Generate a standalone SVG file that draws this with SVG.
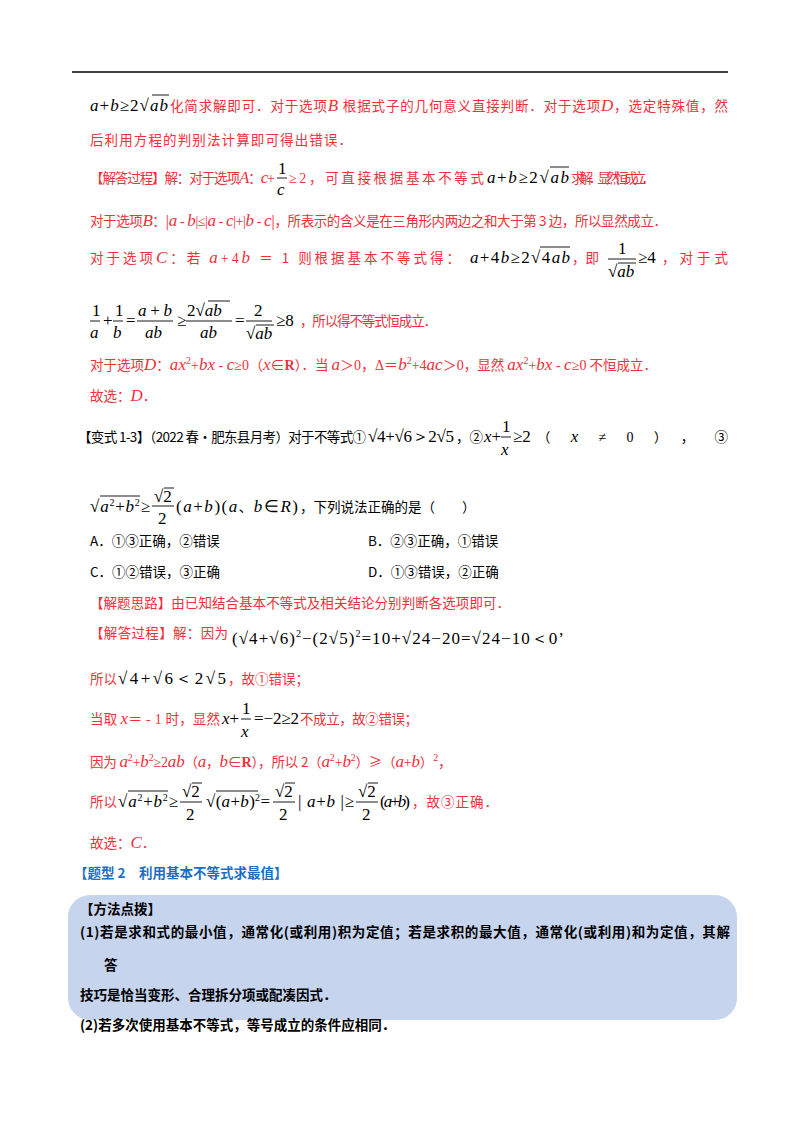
<svg xmlns="http://www.w3.org/2000/svg" width="800" height="1132" viewBox="0 0 800 1132">
<style>
text{font-family:"Liberation Serif","Noto Sans CJK SC",serif;font-size:14px;fill:#000}
.r{fill:#f0303a}
.c{font-family:"Noto Sans CJK SC","Liberation Sans",sans-serif;font-size:13.5px}
.m{font-family:"Liberation Serif",serif;font-style:italic;font-size:17px}
.n{font-family:"Liberation Serif",serif;font-size:17px}
.b{font-weight:bold}
.s{font-size:10px}
line.o{stroke:#000;stroke-width:0.9}
line.f{stroke:#000;stroke-width:0.9}
</style>
<rect width="800" height="1132" fill="#fff"/>
<line x1="72" y1="72" x2="728" y2="72" stroke="#000" stroke-width="1.5"/>

<g id="p1">
<text x="90" y="111" textLength="78" lengthAdjust="spacing"><tspan class="m">a</tspan><tspan class="n">+</tspan><tspan class="m">b</tspan><tspan class="n">≥2√</tspan><tspan class="m">ab</tspan></text>
<line class="o" x1="152" y1="95" x2="169" y2="95"/>
<text x="170" y="111" class="r" textLength="558" lengthAdjust="spacing"><tspan class="c">化简求解即可．对于选项</tspan><tspan class="m">B</tspan><tspan class="c"> 根据式子的几何意义直接判断．对于选项</tspan><tspan class="m">D</tspan><tspan class="c">，选定特殊值，然</tspan></text>
<text x="90" y="145" class="c r" textLength="262" lengthAdjust="spacing">后利用方程的判别法计算即可得出错误．</text>

<text x="90" y="183" class="r" textLength="185" lengthAdjust="spacing"><tspan class="c">【解答过程】解：对于选项</tspan><tspan class="m">A</tspan><tspan class="c">：</tspan><tspan class="m">c</tspan><tspan>+</tspan></text>
<text x="278" y="174" class="n">1</text><line class="f" x1="277" y1="178" x2="287" y2="178"/><text x="277" y="195" class="m">c</text>
<text x="289" y="183" class="r" textLength="195" lengthAdjust="spacing"><tspan>≥2</tspan><tspan class="c">，可直接根据基本不等式</tspan></text>
<text x="487" y="183" textLength="82" lengthAdjust="spacing"><tspan class="m">a</tspan><tspan class="n">+</tspan><tspan class="m">b</tspan><tspan class="n">≥2√</tspan><tspan class="m">ab</tspan></text>
<line class="o" x1="550" y1="167" x2="569" y2="167"/>
<text x="571" y="183" class="c r" textLength="84" lengthAdjust="spacing">求解．显然恒成立．</text>

<text x="90" y="226" class="r" textLength="577" lengthAdjust="spacing"><tspan class="c">对于选项</tspan><tspan class="m">B</tspan><tspan class="c">：|</tspan><tspan class="m">a</tspan><tspan> - </tspan><tspan class="m">b</tspan><tspan>|≤|</tspan><tspan class="m">a</tspan><tspan> - </tspan><tspan class="m">c</tspan><tspan>|+|</tspan><tspan class="m">b</tspan><tspan> - </tspan><tspan class="m">c</tspan><tspan class="c">|，所表示的含义是在三角形内两边之和大于第 3 边，所以显然成立．</tspan></text>

<text x="90" y="263" class="r" textLength="370" lengthAdjust="spacing"><tspan class="c">对于选项</tspan><tspan class="m">C</tspan><tspan class="c">：若 </tspan><tspan class="m">a</tspan><tspan>+4</tspan><tspan class="m">b</tspan><tspan class="c"> ＝ 1 则根据基本不等式得：</tspan></text>
<text x="470" y="263" textLength="100" lengthAdjust="spacing"><tspan class="m">a</tspan><tspan class="n">+4</tspan><tspan class="m">b</tspan><tspan class="n">≥2√4</tspan><tspan class="m">ab</tspan></text>
<line class="o" x1="540" y1="247" x2="570" y2="247"/>
<text x="572" y="263" class="c r">，即</text>
<text x="618" y="254" class="n">1</text><line class="f" x1="608" y1="259" x2="636" y2="259"/><text x="608" y="277"><tspan class="n">√</tspan><tspan class="m">ab</tspan></text>
<line class="o" x1="618" y1="263" x2="636" y2="263"/>
<text x="638" y="263" class="n">≥4</text>
<text x="662" y="263" class="c r" textLength="66" lengthAdjust="spacing">，对于式</text>

<text x="92" y="316" class="n">1</text><line class="f" x1="90" y1="321" x2="100" y2="321"/><text x="90" y="338" class="m">a</text>
<text x="103" y="326" class="n">+</text>
<text x="115" y="316" class="n">1</text><line class="f" x1="113" y1="321" x2="123" y2="321"/><text x="113" y="338" class="m">b</text>
<text x="126" y="326" class="n">=</text>
<text x="138" y="316" textLength="34" lengthAdjust="spacing"><tspan class="m">a</tspan><tspan class="n">+</tspan><tspan class="m">b</tspan></text><line class="f" x1="137" y1="321" x2="173" y2="321"/><text x="145" y="338" class="m">ab</text>
<text x="177" y="326" class="n">≥</text>
<text x="187" y="316"><tspan class="n">2√</tspan><tspan class="m">ab</tspan></text><line class="o" x1="208" y1="301" x2="230" y2="301"/><line class="f" x1="186" y1="321" x2="232" y2="321"/><text x="200" y="338" class="m">ab</text>
<text x="235" y="326" class="n">=</text>
<text x="254" y="316" class="n">2</text><line class="f" x1="246" y1="321" x2="272" y2="321"/><text x="246" y="339"><tspan class="n">√</tspan><tspan class="m">ab</tspan></text><line class="o" x1="256" y1="325" x2="274" y2="325"/>
<text x="276" y="326" class="n">≥8</text>
<text x="300" y="326" class="c r" textLength="137" lengthAdjust="spacing">，所以得不等式恒成立．</text>
<text x="90" y="370" class="r" textLength="567" lengthAdjust="spacing"><tspan class="c">对于选项</tspan><tspan class="m">D</tspan><tspan class="c">：</tspan><tspan class="m">ax</tspan><tspan class="s" dy="-6">2</tspan><tspan dy="6">+</tspan><tspan class="m">bx</tspan><tspan> - </tspan><tspan class="m">c</tspan><tspan>≥0（</tspan><tspan class="m">x</tspan><tspan>∈</tspan><tspan class="b">R</tspan><tspan class="c">）．当 </tspan><tspan class="m">a</tspan><tspan>＞0，Δ＝</tspan><tspan class="m">b</tspan><tspan class="s" dy="-6">2</tspan><tspan dy="6">+4</tspan><tspan class="m">ac</tspan><tspan>＞0</tspan><tspan class="c">，显然 </tspan><tspan class="m">ax</tspan><tspan class="s" dy="-6">2</tspan><tspan dy="6">+</tspan><tspan class="m">bx</tspan><tspan> - </tspan><tspan class="m">c</tspan><tspan>≥0</tspan><tspan class="c"> 不恒成立．</tspan></text>
<text x="90" y="401" class="r"><tspan class="c">故选：</tspan><tspan class="m">D</tspan><tspan>．</tspan></text>
</g>

<g id="p2">
<text x="78" y="442" class="c" textLength="288" lengthAdjust="spacing">【变式 1-3】（2022 春•肥东县月考）对于不等式①</text>
<text x="368" y="442" class="n" textLength="86" lengthAdjust="spacing">√4+√6＞2√5</text>
<text x="456" y="442" class="c">，②</text>
<text x="484" y="442"><tspan class="m">x</tspan><tspan class="n">+</tspan></text>
<text x="502" y="432" class="n">1</text><line class="f" x1="501" y1="437" x2="511" y2="437"/><text x="501" y="455" class="m">x</text>
<text x="513" y="442" class="n">≥2</text>
<text x="537" y="442" textLength="191" lengthAdjust="spacing"><tspan class="c">（</tspan><tspan class="m">x</tspan><tspan>≠0</tspan><tspan class="c">），③</tspan></text>

<text x="90" y="512" textLength="60" lengthAdjust="spacing"><tspan class="n">√</tspan><tspan class="m">a</tspan><tspan class="s" dy="-6">2</tspan><tspan class="n" dy="6">+</tspan><tspan class="m">b</tspan><tspan class="s" dy="-6">2</tspan><tspan class="n" dy="6">≥</tspan></text>
<line class="o" x1="100" y1="496" x2="140" y2="496"/>
<text x="154" y="502" class="n">√2</text><line class="o" x1="164" y1="488" x2="174" y2="488"/><line class="f" x1="152" y1="506" x2="174" y2="506"/><text x="158" y="524" class="n">2</text>
<text x="176" y="512" textLength="122" lengthAdjust="spacing"><tspan class="n">(</tspan><tspan class="m">a</tspan><tspan class="n">+</tspan><tspan class="m">b</tspan><tspan class="n">)(</tspan><tspan class="m">a</tspan><tspan class="c">、</tspan><tspan class="m">b</tspan><tspan class="n">∈</tspan><tspan class="m">R</tspan><tspan class="n">)</tspan></text>
<text x="300" y="512" class="c">，下列说法正确的是（　　）</text>
<text x="90" y="546" class="c">A．①③正确，②错误</text>
<text x="368" y="546" class="c">B．②③正确，①错误</text>
<text x="90" y="577" class="c">C．①②错误，③正确</text>
<text x="368" y="577" class="c">D．①③错误，②正确</text>
<text x="90" y="608" class="c r" textLength="420" lengthAdjust="spacing">【解题思路】由已知结合基本不等式及相关结论分别判断各选项即可．</text>
<text x="90" y="638" class="c r" textLength="138" lengthAdjust="spacing">【解答过程】解：因为</text>
<text x="232" y="644" class="n" textLength="332" lengthAdjust="spacing">(√4+√6)<tspan class="s" dy="-7">2</tspan><tspan dy="7">−(2√5)</tspan><tspan class="s" dy="-7">2</tspan><tspan dy="7">=10+√24−20=√24−10＜0’</tspan></text>
<text x="90" y="684" class="c r">所以</text>
<text x="118" y="684" class="n" textLength="108" lengthAdjust="spacing">√4+√6＜2√5</text>
<text x="228" y="684" class="c r">，故①错误；</text>

<text x="90" y="724" class="r" textLength="130" lengthAdjust="spacing"><tspan class="c">当取 </tspan><tspan class="m">x</tspan><tspan>＝ - 1 </tspan><tspan class="c">时，显然</tspan></text>
<text x="222" y="724"><tspan class="m">x</tspan><tspan class="n">+</tspan></text>
<text x="242" y="714" class="n">1</text><line class="f" x1="241" y1="719" x2="251" y2="719"/><text x="241" y="737" class="m">x</text>
<text x="254" y="724" class="n" textLength="45" lengthAdjust="spacing">=−2≥2</text>
<text x="300" y="724" class="c r" textLength="118" lengthAdjust="spacing">不成立，故②错误；</text>

<text x="90" y="767" class="r" textLength="362" lengthAdjust="spacing"><tspan class="c">因为 </tspan><tspan class="m">a</tspan><tspan class="s" dy="-6">2</tspan><tspan dy="6">+</tspan><tspan class="m">b</tspan><tspan class="s" dy="-6">2</tspan><tspan dy="6">≥2</tspan><tspan class="m">ab</tspan><tspan class="c">（</tspan><tspan class="m">a</tspan><tspan class="c">，</tspan><tspan class="m">b</tspan><tspan>∈</tspan><tspan class="b">R</tspan><tspan class="c">），所以 2（</tspan><tspan class="m">a</tspan><tspan class="s" dy="-6">2</tspan><tspan dy="6">+</tspan><tspan class="m">b</tspan><tspan class="s" dy="-6">2</tspan><tspan dy="6" class="c">）≥（</tspan><tspan class="m">a</tspan><tspan>+</tspan><tspan class="m">b</tspan><tspan class="c">）</tspan><tspan class="s" dy="-6">2</tspan><tspan dy="6">，</tspan></text>

<text x="90" y="807" class="c r">所以</text>
<text x="118" y="807" textLength="60" lengthAdjust="spacing"><tspan class="n">√</tspan><tspan class="m">a</tspan><tspan class="s" dy="-6">2</tspan><tspan class="n" dy="6">+</tspan><tspan class="m">b</tspan><tspan class="s" dy="-6">2</tspan><tspan class="n" dy="6">≥</tspan></text>
<line class="o" x1="128" y1="791" x2="168" y2="791"/>
<text x="182" y="797" class="n">√2</text><line class="o" x1="192" y1="783" x2="202" y2="783"/><line class="f" x1="180" y1="802" x2="202" y2="802"/><text x="186" y="820" class="n">2</text>
<text x="206" y="807" textLength="64" lengthAdjust="spacing"><tspan class="n">√(</tspan><tspan class="m">a</tspan><tspan class="n">+</tspan><tspan class="m">b</tspan><tspan class="n">)</tspan><tspan class="s" dy="-6">2</tspan><tspan class="n" dy="6">=</tspan></text>
<line class="o" x1="216" y1="791" x2="258" y2="791"/>
<text x="275" y="797" class="n">√2</text><line class="o" x1="285" y1="783" x2="295" y2="783"/><line class="f" x1="273" y1="802" x2="295" y2="802"/><text x="279" y="820" class="n">2</text>
<text x="298" y="807" textLength="56" lengthAdjust="spacing"><tspan class="n">| </tspan><tspan class="m">a</tspan><tspan class="n">+</tspan><tspan class="m">b</tspan><tspan class="n"> |≥</tspan></text>
<text x="358" y="797" class="n">√2</text><line class="o" x1="368" y1="783" x2="378" y2="783"/><line class="f" x1="356" y1="802" x2="378" y2="802"/><text x="362" y="820" class="n">2</text>
<text x="380" y="807" textLength="30" lengthAdjust="spacing"><tspan class="n">(</tspan><tspan class="m">a</tspan><tspan class="n">+</tspan><tspan class="m">b</tspan><tspan class="n">)</tspan></text>
<text x="412" y="807" class="c r" textLength="86" lengthAdjust="spacing">，故③正确．</text>
<text x="90" y="848" class="r"><tspan class="c">故选：</tspan><tspan class="m">C</tspan><tspan>．</tspan></text>
</g>

<g id="p3">
<text x="74" y="878" class="c b" style="fill:#1a6fc4">【题型 2　利用基本不等式求最值】</text>
<rect x="68" y="895" width="669" height="125" rx="22" fill="#c6d4ee"/>
<text x="80" y="914" class="c b">【方法点拨】</text>
<text x="80" y="937" class="c b" textLength="650" lengthAdjust="spacing">(1)若是求和式的最小值，通常化(或利用)积为定值；若是求积的最大值，通常化(或利用)和为定值，其解</text>
<text x="104" y="970" class="c b">答</text>
<text x="80" y="1000" class="c b">技巧是恰当变形、合理拆分项或配凑因式．</text>
<text x="80" y="1030" class="c b">(2)若多次使用基本不等式，等号成立的条件应相同．</text>
</g>
</svg>
